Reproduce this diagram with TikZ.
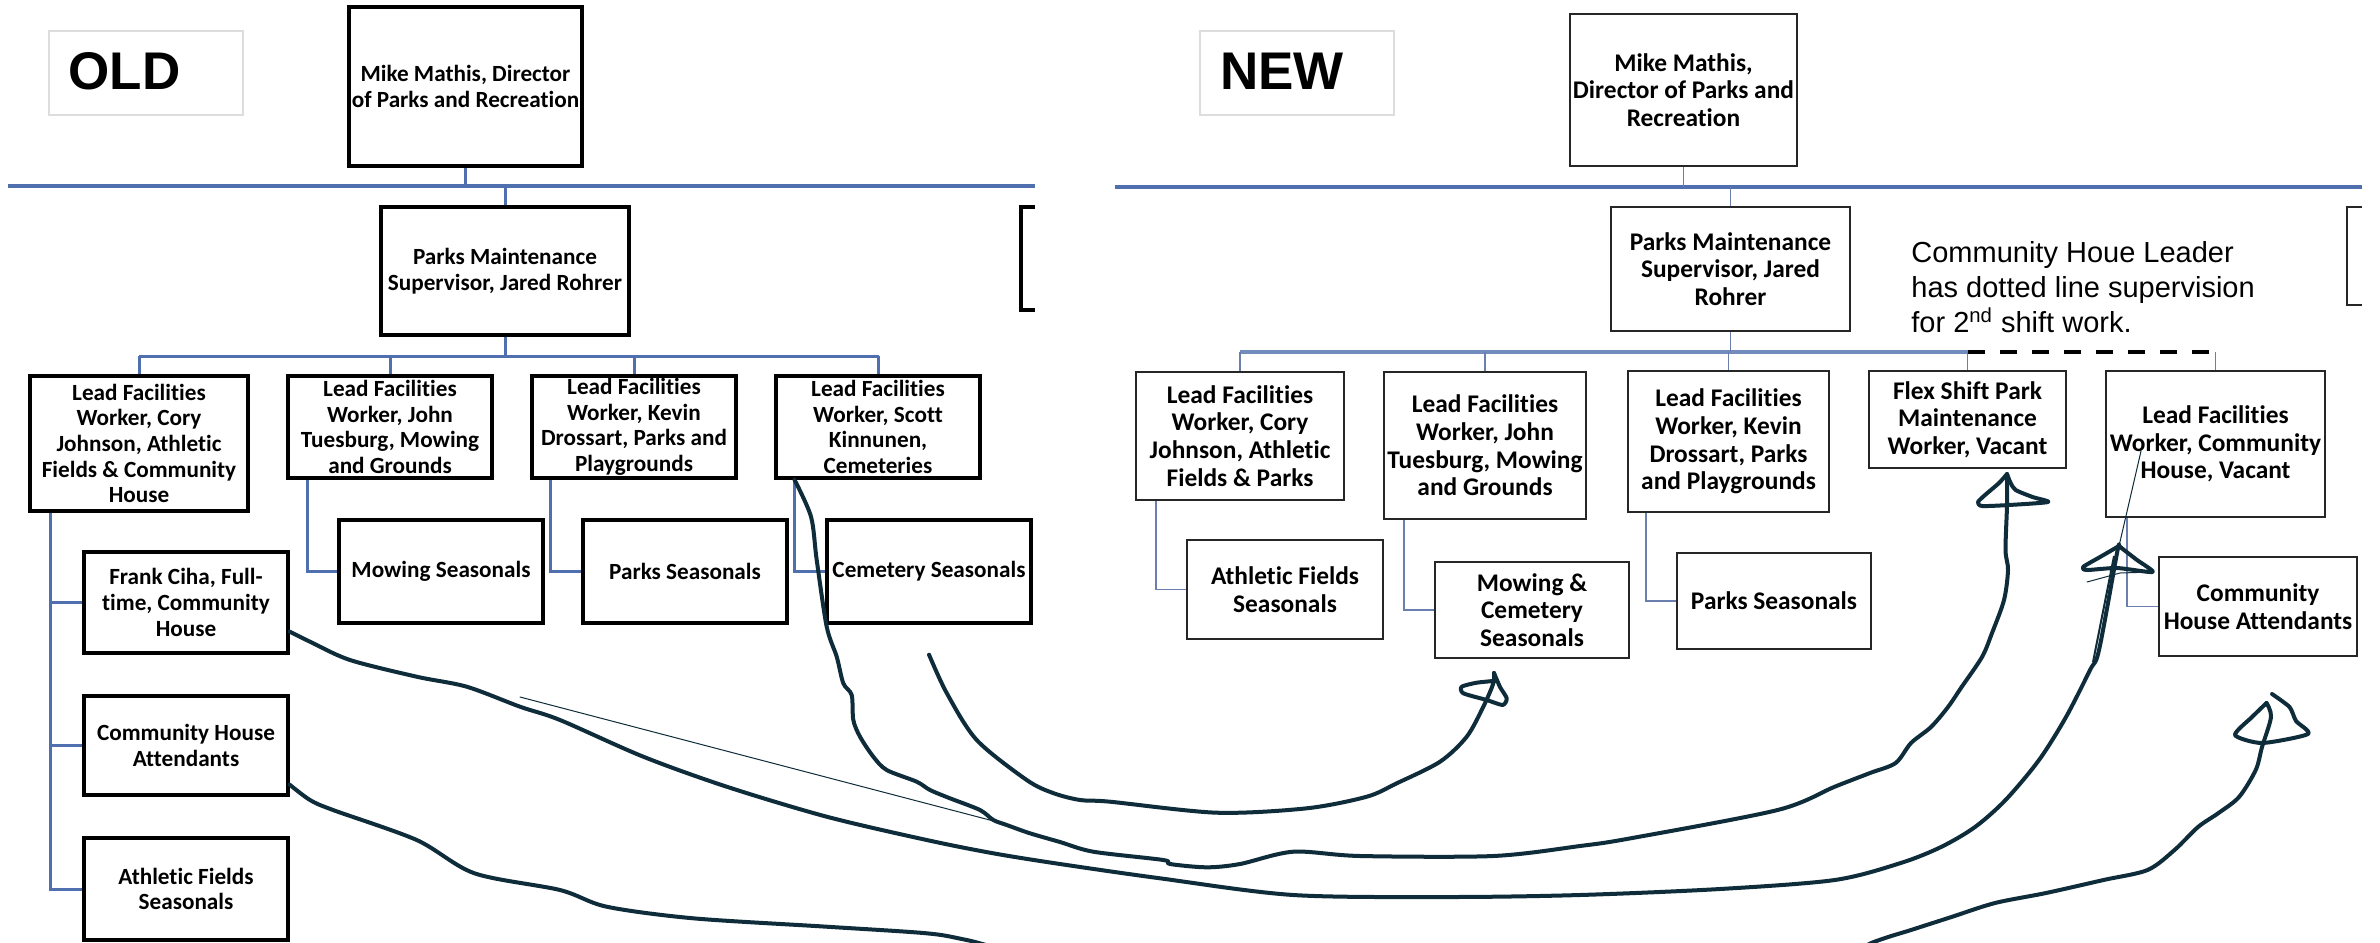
\documentclass[tikz,border=0pt]{standalone}
\usepackage{fontspec}
\setmainfont{Carlito}[Ligatures=NoCommon]
\newfontfamily\arialf{Liberation Sans}
\definecolor{lineblue}{HTML}{4F6FAE}
\definecolor{thinblue}{HTML}{6A7FAE}
\definecolor{ink}{HTML}{0E2C3A}
\definecolor{lblgray}{HTML}{DDDDDD}
\newcommand\oboxfont{\bfseries\fontsize{11.6pt}{12.8pt}\selectfont}
\newcommand\nboxfont{\bfseries\fontsize{12.7pt}{13.85pt}\selectfont}
\tikzset{
  obox/.style={draw=black, line width=1.6pt, inner sep=0pt, align=center, font=\oboxfont},
  nbox/.style={draw=black!85, line width=1pt, inner sep=0pt, align=center, font=\nboxfont},
  lblbox/.style={draw=lblgray, line width=0.6pt, inner sep=0pt},
  bigtxt/.style={inner sep=0pt, font=\arialf\bfseries\fontsize{26.5pt}{30pt}\selectfont},
  notetxt/.style={inner sep=0pt, align=left, font=\arialf\fontsize{14.5pt}{17.5pt}\selectfont},
  otop/.style={draw=lineblue, line width=2.4pt},
  oline/.style={draw=lineblue, line width=1.5pt},
  ntop/.style={draw=lineblue, line width=2.2pt},
  nlow/.style={draw=lineblue!80, line width=1.8pt},
  nconn/.style={draw=thinblue, line width=0.8pt},
  dashline/.style={draw=black, line width=2pt, dash pattern=on 8.5pt off 7.5pt},
  obrk/.style={draw=black, line width=1.6pt},
  nbrk/.style={draw=black!85, line width=1pt},
  ink/.style={draw=ink, line width=2pt, line cap=round, line join=round},
  inkthin/.style={draw=ink, line width=0.5pt, line cap=round},
}
\begin{document}
\begin{tikzpicture}[x=0.5pt, y=-0.5pt]
\path[use as bounding box] (0,0) rectangle (2380,942);
\clip (0,0) rectangle (2380,942);
\fill[white] (0,0) rectangle (2380,942);

% ---------------- OLD ----------------
\node[lblbox, minimum width=97pt, minimum height=42pt] (oldlabel) at (146,73) {};
\node[bigtxt] (oldtxt) at (124.5,71) {OLD};

\node[obox, minimum width=116.5pt, minimum height=79.5pt] (omike) at (465.5,86.5) {Mike Mathis, Director\\of Parks and Recreation};
\node[obox, minimum width=124pt, minimum height=64pt] (oparks) at (505,271) {Parks Maintenance\\Supervisor, Jared Rohrer};
\node[obox, minimum width=109pt, minimum height=67.5pt] (oa) at (139,443.5) {Lead Facilities\\Worker, Cory\\Johnson, Athletic\\Fields \& Community\\House};
\node[obox, minimum width=102pt, minimum height=51pt] (ob) at (390,427) {Lead Facilities\\Worker, John\\Tuesburg, Mowing\\and Grounds};
\node[obox, minimum width=102pt, minimum height=51pt] (oc) at (634,427) {Lead Facilities\\Worker, Kevin\\Drossart, Parks and\\Playgrounds};
\node[obox, minimum width=102pt, minimum height=51pt] (od) at (878,427) {Lead Facilities\\Worker, Scott\\Kinnunen,\\Cemeteries};
\node[obox, minimum width=102pt, minimum height=51.5pt] (omow) at (441,571.5) {Mowing Seasonals};
\node[obox, minimum width=102pt, minimum height=51.5pt] (opks) at (685,571.5) {Parks Seasonals};
\node[obox, minimum width=102pt, minimum height=51.5pt] (ocem) at (929,571.5) {Cemetery Seasonals};
\node[obox, minimum width=102pt, minimum height=50.5pt] (ofrank) at (186,602.5) {Frank Ciha, Full-\\time, Community\\House};
\node[obox, minimum width=102pt, minimum height=49.5pt] (ocha) at (186,745.5) {Community House\\Attendants};
\node[obox, minimum width=102pt, minimum height=51pt] (oafs) at (186,889) {Athletic Fields\\Seasonals};

\coordinate (otl) at (8,186);
\coordinate (otr) at (1035,186);
\coordinate (obl) at (139,356);
\coordinate (obr) at (879,356);
\draw[otop] (otl) -- (otr);
\draw[oline] (omike.south) -- (omike.south |- otl);
\draw[oline] (oparks.north) -- (oparks.north |- otl);
\draw[oline] (obl) -- (obr);
\draw[oline] (oparks.south) -- (oparks.south |- obl);
\draw[oline] (oa.north) -- (oa.north |- obl);
\draw[oline] (ob.north) -- (ob.north |- obl);
\draw[oline] (oc.north) -- (oc.north |- obl);
\draw[oline] (od.north) -- (od.north |- obl);
\draw[oline] ([xshift=10.5pt]ob.south west) |- (omow.west);
\draw[oline] ([xshift=10.25pt]oc.south west) |- (opks.west);
\draw[oline] ([xshift=10pt]od.south west) |- (ocem.west);
\draw[oline] ([xshift=11pt]oa.south west) |- (oafs.west);
\draw[oline] ([xshift=11pt]oa.south west) |- (ofrank.west);
\draw[oline] ([xshift=11pt]oa.south west) |- (ocha.west);
\draw[obrk] (1035,207) -- (1021,207) -- (1021,310) -- (1035,310);

% ---------------- NEW ----------------
\node[lblbox, minimum width=97pt, minimum height=42pt] (newlabel) at (1297,73) {};
\node[bigtxt] (newtxt) at (1282,71) {NEW};

\node[nbox, minimum width=113.5pt, minimum height=76pt] (nmike) at (1683.5,90) {Mike Mathis,\\Director of Parks and\\Recreation};
\node[nbox, minimum width=119.5pt, minimum height=62pt] (nparks) at (1730.5,269) {Parks Maintenance\\Supervisor, Jared\\Rohrer};
\node[nbox, minimum width=104pt, minimum height=64pt] (na) at (1240,436) {Lead Facilities\\Worker, Cory\\Johnson, Athletic\\Fields \& Parks};
\node[nbox, minimum width=101pt, minimum height=73.5pt] (nb) at (1485,445.5) {Lead Facilities\\Worker, John\\Tuesburg, Mowing\\and Grounds};
\node[nbox, minimum width=100.5pt, minimum height=70.5pt] (nc) at (1728.5,441.5) {Lead Facilities\\Worker, Kevin\\Drossart, Parks\\and Playgrounds};
\node[nbox, minimum width=98.5pt, minimum height=48.5pt] (nd) at (1967.5,419.5) {Flex Shift Park\\Maintenance\\Worker, Vacant};
\node[nbox, minimum width=109.5pt, minimum height=73pt] (ne) at (2215.5,444) {Lead Facilities\\Worker, Community\\House, Vacant};
\node[nbox, minimum width=98pt, minimum height=49.5pt] (nafs) at (1285,589.5) {Athletic Fields\\Seasonals};
\node[nbox, minimum width=97pt, minimum height=48pt] (nmc) at (1532,610) {Mowing \&\\Cemetery\\Seasonals};
\node[nbox, minimum width=97pt, minimum height=48pt] (npks) at (1774,601) {Parks Seasonals};
\node[nbox, minimum width=99pt, minimum height=49.5pt] (ncha) at (2258,606.5) {Community\\House Attendants};

\node[notetxt, anchor=north west] (note) at (1911,241.5) {Community Houe Leader\\has dotted line supervision\\for 2\textsuperscript{nd} shift work.};

\coordinate (ntl) at (1115,187);
\coordinate (ntr) at (2362,187);
\coordinate (nbl) at (1240,352);
\coordinate (nbm) at (1968,352);
\draw[ntop] (ntl) -- (ntr);
\draw[nconn] (nmike.south) -- (nmike.south |- ntl);
\draw[nconn] (nparks.north) -- (nparks.north |- ntl);
\draw[nlow] (nbl) -- (nbm);
\draw[nconn] (nparks.south) -- (nparks.south |- nbl);
\draw[nconn] (na.north) -- (na.north |- nbl);
\draw[nconn] (nb.north) -- (nb.north |- nbl);
\draw[nconn] (nc.north) -- (nc.north |- nbl);
\draw[nconn] (nd.north) -- (nd.north |- nbl);
\draw[nconn] (ne.north) -- (ne.north |- nbl);
\draw[dashline] (nbm) -- (ne.north |- nbm);
\draw[nconn] ([xshift=10.5pt]na.south west) |- (nafs.west);
\draw[nconn] ([xshift=10.5pt]nb.south west) |- (nmc.west);
\draw[nconn] ([xshift=9.5pt]nc.south west) |- (npks.west);
\draw[nconn] ([xshift=11pt]ne.south west) |- (ncha.west);
\draw[nbrk] (2362,207) -- (2347,207) -- (2347,305) -- (2362,305);

% ---------------- hand-drawn arrows ----------------
\coordinate (tipA) at (2119,546);
\coordinate (tipB) at (2266.5,703);
\coordinate (tipC) at (2007,474);
\coordinate (tipD) at (1494,673);

% Frank Ciha -> Lead Facilities Worker, Community House, Vacant
\draw[ink] plot[smooth, tension=0.5] coordinates {([yshift=11.5pt]ofrank.south east) (310,641.7) (350,660) (416.7,676.7) (466.7,686.7) (520,706.7) (560,720) (643.3,756.7) (726.7,786.7) (826.7,816.7) (926.7,840) (993.3,853.3) (1060,864) (1160,878.3) (1293.3,895) (1450,897) (1580,895) (1720,889) (1834.7,880) (1900.7,863) (1941,847) (1975,827) (2005.5,800) (2039,760) (2066,717) (2090,670) (2099,650) (2117,553) (tipA)};
\draw[ink] plot[smooth, tension=0.4] coordinates {(tipA) (2100,557) (2083,567) (2087,570) (2117,568) (2152.6,572) (2137,560) (2124,550) (tipA)};
\draw[inkthin] (2152.6,572) -- (2120,573) -- (2087,582);
\draw[inkthin] (2141,451) -- (tipA);
\draw[draw=ink, line width=1pt] (2114,556) -- (2093,662);

% Scott Kinnunen -> Flex Shift Park Maintenance Worker
\draw[ink] plot[smooth, tension=0.5] coordinates {([xshift=10pt]od.south west) (811,516.7) (816.7,560) (826.7,626.7) (836.7,656.7) (843.3,683.3) (851.7,695) (853.3,720) (860,736.7) (873.3,756.7) (886.7,770) (916.7,781.7) (930,790) (950,798.3) (980,810) (993.3,820) (1006.7,825) (1030,833.3) (1060,842) (1093.3,851.7) (1163.3,860) (1170,864) (1206.7,867.3) (1240,864) (1293.3,851.7) (1360,856) (1493.3,856) (1580,846) (1630.6,838.3) (1777.6,810) (1834.7,786.7) (1870,773) (1895.6,763) (1911,743) (1931,727) (1948,707) (1961.6,687) (1982,657) (1992,633) (2004,600) (2008,570) (2005.5,550) (2007,505) (tipC)};
\draw[ink] plot[smooth, tension=0.4] coordinates {(tipC) (1999,483) (1985,495) (1978,502) (1982,506) (2009,505) (2048,502) (2032.5,497) (2015.6,490) (2010.6,483) (tipC)};

% Cemetery Seasonals -> Mowing & Cemetery Seasonals
\draw[ink] plot[smooth, tension=0.5] coordinates {([yshift=-15pt]ocem.south) (946.7,693) (976.7,740) (1026.7,780) (1053,793) (1080,800) (1110,801.7) (1216.7,812.7) (1306.7,808.3) (1366.7,796.7) (1396.7,783.3) (1440,761.7) (1466.7,736.7) (1483.3,706.7) (1493.3,683.3) (tipD)};
\draw[ink] plot[smooth, tension=0.4] coordinates {(tipD) (1500,687) (1506.7,698.3) (1502.7,705) (1486.7,700) (1463.3,693.3) (1461.7,686.7) (1476.7,682.7) (1496.7,680.7)};

% Community House Attendants -> Community House Attendants
\draw[ink] plot[smooth, tension=0.5] coordinates {([yshift=6pt]ocha.south east) (310,800) (333,810) (416.7,840) (474.5,873.3) (560,890) (606.7,906.7) (693.3,918.3) (826.7,926.7) (926.7,933.3) (966.7,940) (1050,958) (1400,1010) (1780,978) (1873.7,942) (1911,930) (1951.4,917) (1995,903) (2046,893) (2103.5,880) (2147.5,870) (2174.5,850) (2198,827) (2218.5,813) (2239,797) (2255.7,770) (2262,747) (2271,717) (tipB)};
\draw[ink] plot[smooth, tension=0.4] coordinates {(2272,694) (2289.5,707) (2296,721) (2308,734) (2262,743) (2235,735) (2252,717) (tipB)};

% stray thin stroke
\draw[inkthin] (520,697) -- (1005,824);
\end{tikzpicture}
\end{document}
